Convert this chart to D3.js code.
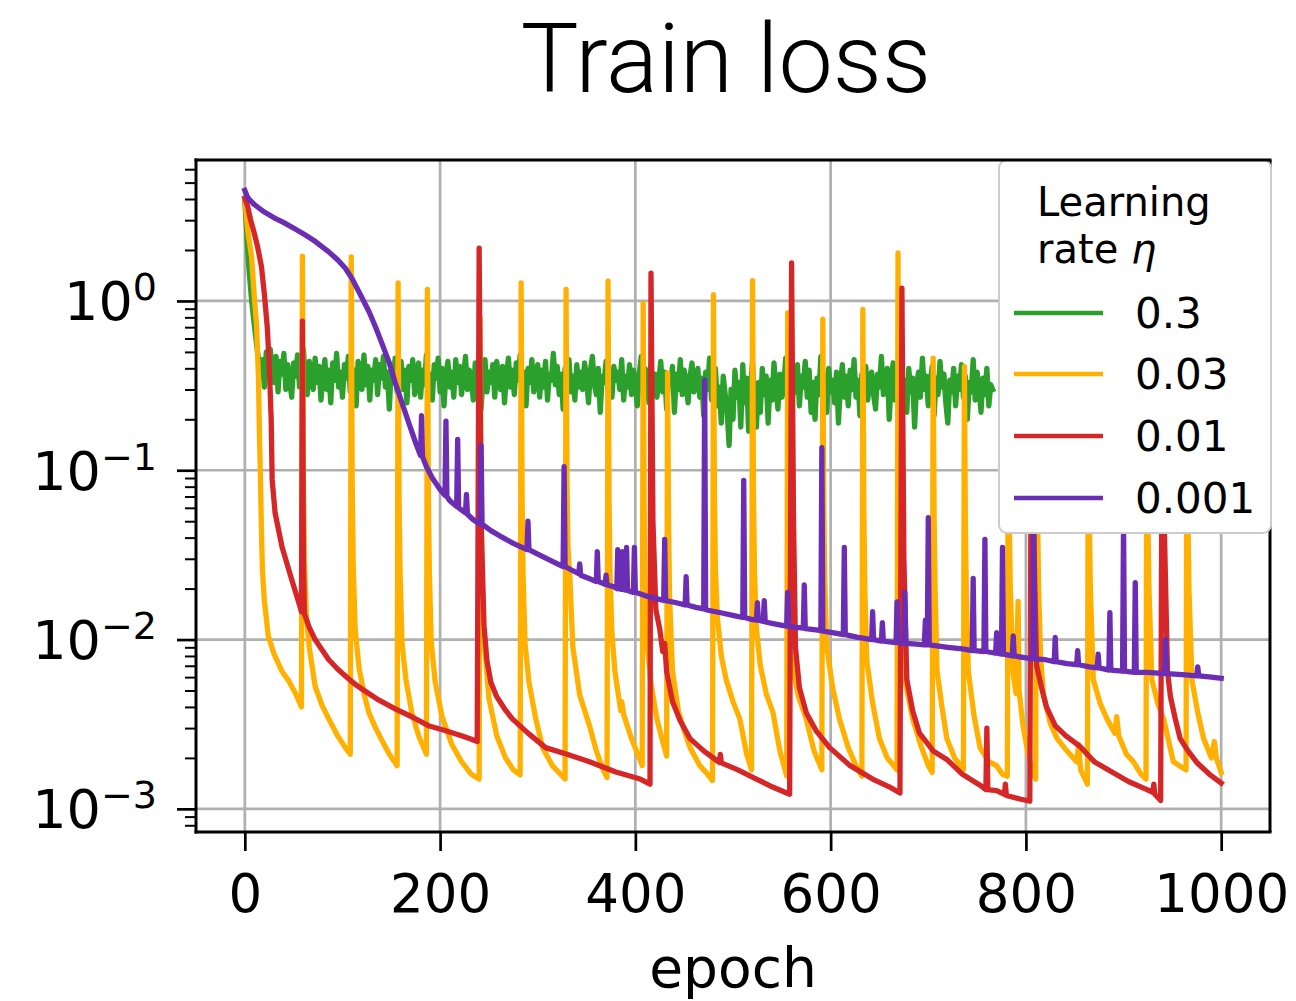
<!DOCTYPE html>
<html>
<head>
<meta charset="utf-8">
<script src="https://cdn.jsdelivr.net/npm/d3@7"></script>
<style>
  body { margin: 0; background: #fff; }
  svg text { font-family: "DejaVu Sans", sans-serif; fill: #000; }
</style>
</head>
<body>
<svg id="chart" width="1296" height="1001"></svg>
<script>
// ---- data -------------------------------------------------------------
const xTicks = [0, 200, 400, 600, 800, 1000];
const yMajorTicks = [1e-3, 1e-2, 1e-1, 1];
const yTickExponents = ["\u22123", "\u22122", "\u22121", "0"];
const learningRates = ["0.3", "0.03", "0.01", "0.001"];
const seriesColors = ["#2ca02c", "#ffb000", "#d62728", "#6a2db4"];

// eta = 0.3: fast drop, then a noisy plateau (sampled every 2 epochs from epoch 16)
const greenHead = [[0, 3.9], [2, 2.5], [4, 1.6], [7, 1.0], [10, 0.7], [13, 0.5]];
const greenEpochs = d3.range(16, 767, 2);
const greenLoss = [
  0.38,0.45,0.31,0.50,0.36,0.52,0.41,0.33,0.47,0.29,0.44,0.37,0.49,0.30,0.42,
  0.34,0.27,0.43,0.36,0.48,0.31,0.40,0.52,0.35,0.28,0.44,0.38,0.30,0.46,0.33,
  0.41,0.26,0.37,0.45,0.30,0.39,0.25,0.43,0.34,0.49,0.31,0.38,0.27,0.42,0.35,
  0.47,0.29,0.40,0.33,0.24,0.44,0.36,0.30,0.48,0.32,0.41,0.26,0.39,0.34,0.45,
  0.28,0.42,0.35,0.47,0.31,0.38,0.23,0.40,0.33,0.46,0.29,0.37,0.44,0.30,0.39,
  0.25,0.41,0.34,0.45,0.28,0.36,0.43,0.27,0.39,0.32,0.48,0.30,0.37,0.26,0.42,
  0.35,0.46,0.29,0.40,0.24,0.37,0.44,0.31,0.38,0.27,0.45,0.33,0.41,0.28,0.36,
  0.47,0.30,0.39,0.34,0.26,0.43,0.32,0.40,0.23,0.36,0.45,0.29,0.38,0.33,0.42,
  0.27,0.44,0.35,0.30,0.41,0.25,0.37,0.46,0.31,0.39,0.28,0.43,0.34,0.48,0.30,
  0.38,0.24,0.40,0.33,0.45,0.29,0.36,0.42,0.27,0.39,0.31,0.44,0.26,0.37,0.34,
  0.49,0.32,0.41,0.28,0.37,0.23,0.40,0.34,0.45,0.29,0.36,0.26,0.42,0.31,0.38,
  0.30,0.43,0.35,0.25,0.39,0.47,0.32,0.28,0.40,0.22,0.36,0.33,0.44,0.29,0.37,
  0.27,0.41,0.34,0.38,0.30,0.45,0.26,0.36,0.31,0.42,0.28,0.39,0.33,0.24,0.37,
  0.47,0.31,0.40,0.35,0.25,0.42,0.30,0.37,0.27,0.34,0.44,0.29,0.38,0.23,0.36,
  0.32,0.41,0.22,0.37,0.30,0.45,0.28,0.39,0.33,0.25,0.36,0.43,0.29,0.34,0.40,
  0.27,0.35,0.21,0.38,0.30,0.46,0.26,0.33,0.40,0.24,0.31,0.19,0.36,0.28,0.22,
  0.14,0.30,0.20,0.39,0.27,0.33,0.18,0.42,0.25,0.35,0.17,0.31,0.44,0.24,0.18,
  0.33,0.22,0.40,0.28,0.36,0.19,0.34,0.26,0.43,0.30,0.23,0.37,0.27,0.32,0.46,
  0.25,0.38,0.21,0.34,0.29,0.42,0.24,0.36,0.31,0.44,0.27,0.39,0.22,0.33,0.20,
  0.35,0.28,0.47,0.31,0.37,0.22,0.40,0.29,0.34,0.25,0.38,0.19,0.32,0.42,0.27,
  0.36,0.24,0.39,0.30,0.45,0.27,0.34,0.21,0.37,0.29,0.41,0.26,0.33,0.38,0.28,
  0.23,0.37,0.31,0.47,0.28,0.35,0.40,0.20,0.33,0.43,0.26,0.36,0.30,0.39,0.25,
  0.34,0.22,0.40,0.29,0.35,0.18,0.32,0.38,0.27,0.46,0.30,0.36,0.24,0.33,0.41,
  0.21,0.35,0.28,0.44,0.31,0.37,0.25,0.19,0.34,0.29,0.40,0.24,0.36,0.30,0.42,
  0.27,0.36,0.20,0.33,0.29,0.45,0.26,0.38,0.31,0.22,0.35,0.28,0.40,0.24,0.32,
  0.30
];

// eta = 0.03: [epoch, loss]
const orangeLoss = [
  [0,4.0],[3,2.6],[7,1.8],[10,1.0],[12,0.72],[14,0.35],[15,0.16],[16,0.09],[17,0.045],[18,0.026],
  [20,0.017],[24,0.0105],[30,0.0082],[38,0.0065],[45,0.0057],[52,0.0048],[58,0.004],
  [59,1.84],[60,0.09],[61,0.03],[63,0.014],[66,0.009],[72,0.0053],[79,0.0041],[86,0.0034],[95,0.0027],[103,0.0023],[108,0.0021],
  [109,1.82],[110,0.08],[111,0.028],[113,0.0115],[117,0.0068],[122,0.0048],[127,0.0037],[134,0.003],[141,0.0025],[148,0.0021],[156,0.0018],
  [157,1.28],[158,0.07],[159,0.025],[161,0.0095],[165,0.0058],[171,0.0037],[178,0.0027],[186,0.0021],
  [187,1.17],[188,0.07],[189,0.025],[191,0.0095],[195,0.0056],[202,0.0035],[212,0.0024],[222,0.0019],[232,0.0016],[240,0.0015],
  [241,0.8],[242,0.06],[243,0.022],[245,0.01],[250,0.0045],[258,0.0027],[267,0.002],[275,0.0017],[282,0.00159],
  [283,1.28],[284,0.07],[285,0.024],[287,0.0095],[291,0.0056],[298,0.0034],[305,0.0023],[315,0.0018],[328,0.0015],
  [329,1.17],[330,0.08],[331,0.035],[333,0.0226],[336,0.009],[343,0.0047],[353,0.0031],[360,0.0022],[367,0.0017],[371,0.00153],
  [372,1.31],[373,0.07],[374,0.025],[376,0.011],[379,0.0065],[385,0.0038],[386,0.0043],[388,0.0036],[396,0.0026],[404,0.002],[407,0.0018],
  [408,0.97],[409,0.06],[410,0.02],[412,0.0095],[416,0.0055],[422,0.0034],[428,0.0025],[432,0.00205],
  [433,0.376],[434,0.05],[435,0.018],[438,0.0065],[444,0.0038],[450,0.0029],[456,0.0023],[466,0.0018],[474,0.0016],[479,0.00147],
  [480,1.09],[481,0.07],[482,0.026],[484,0.0135],[488,0.008],[493,0.0058],[500,0.0043],[507,0.0034],[514,0.0021],[519,0.0017],
  [520,1.32],[521,0.07],[522,0.025],[524,0.0115],[528,0.007],[534,0.0048],[541,0.0037],[548,0.0022],[555,0.00156],
  [556,0.85],[557,0.06],[558,0.022],[561,0.007],[567,0.0046],[575,0.0034],[583,0.0022],[591,0.0017],
  [592,0.78],[593,0.06],[594,0.022],[596,0.0091],[602,0.0052],[609,0.0034],[618,0.0023],[626,0.0018],[632,0.00156],
  [633,0.89],[634,0.06],[635,0.02],[637,0.0075],[643,0.0042],[650,0.0026],[658,0.002],[668,0.0017],
  [669,1.92],[670,0.07],[671,0.025],[673,0.01],[676,0.0058],[684,0.0034],[692,0.0024],[700,0.0018],[704,0.00164],
  [705,0.46],[706,0.05],[707,0.02],[709,0.0065],[714,0.004],[719,0.0026],[727,0.002],[736,0.0017],
  [737,0.41],[738,0.05],[739,0.018],[741,0.0065],[747,0.0035],[753,0.0023],[762,0.0019],[770,0.0018],[776,0.0016],[781,0.00156],
  [782,0.6],[783,0.05],[784,0.02],[787,0.0062],[790,0.0048],[792,0.0168],[793,0.005],[797,0.0031],[801,0.0023],[806,0.0017],[810,0.0015],
  [811,0.6],[812,0.05],[813,0.02],[815,0.008],[818,0.0047],[825,0.0032],[832,0.0026],[842,0.0022],[852,0.0019],[854,0.0024],[856,0.0017],[863,0.0014],
  [864,0.6],[865,0.05],[866,0.02],[869,0.0058],[876,0.0042],[883,0.0034],[891,0.0028],[893,0.0035],[895,0.0027],[903,0.0021],[910,0.0019],[918,0.0016],[923,0.0015],
  [924,0.6],[925,0.05],[926,0.02],[929,0.0058],[935,0.0042],[941,0.0034],[951,0.0019],[957,0.0018],[964,0.0017],
  [965,0.6],[966,0.05],[967,0.02],[970,0.0058],[976,0.0037],[982,0.0026],[990,0.002],[993,0.0025],[995,0.002],[1000,0.00164]
];

// eta = 0.01: [epoch, loss]
const redLoss = [
  [0,4.05],[3,3.6],[6,3.0],[9,2.6],[13,2.1],[17,1.6],[20,1.1],[23,0.7],[25,0.42],[27,0.2],[28,0.088],
  [31,0.056],[38,0.0355],[48,0.0226],[56,0.016],[58,0.0146],
  [59,0.76],[60,0.03],[61,0.0142],[66,0.0118],[72,0.01],[79,0.0087],[86,0.0076],[95,0.0067],[103,0.0061],[112,0.0055],
  [120,0.0051],[137,0.0044],[154,0.0039],[171,0.0035],[188,0.0031],[205,0.0029],[222,0.0027],[230,0.0026],[238,0.0025],
  [240,2.05],[242,0.05],[245,0.012],[248,0.0075],[252,0.0056],[258,0.0046],[266,0.0039],[274,0.0034],[290,0.0028],
  [308,0.0023],[330,0.0021],[353,0.0019],[380,0.00165],[405,0.0015],[415,0.0014],
  [416,1.46],[418,0.05],[421,0.015],[425,0.0115],[428,0.0085],[430,0.0095],[432,0.0065],[438,0.0043],[446,0.0033],
  [456,0.0026],[470,0.0022],[486,0.00188],[487,0.0021],[488,0.00187],[505,0.0017],[524,0.0015],[540,0.00135],[558,0.00122],
  [560,1.68],[562,0.05],[564,0.009],[568,0.0052],[575,0.0037],[585,0.0029],[599,0.0023],[620,0.0018],[643,0.0015],
  [660,0.00135],[671,0.00124],
  [673,1.19],[675,0.03],[678,0.0058],[684,0.0038],[691,0.0028],[705,0.0022],[719,0.00196],[735,0.0016],[753,0.00138],
  [759,0.0013],[760,0.003],[761,0.0013],[770,0.00128],[778,0.00122],[779,0.0014],[780,0.0012],[795,0.00114],[804,0.00111],
  [806,1.4],[808,0.04],[811,0.007],[816,0.0052],[821,0.004],[830,0.0031],[841,0.0027],[855,0.00235],[870,0.0019],
  [889,0.00164],[905,0.00145],[924,0.0013],[930,0.00125],[931,0.0014],[932,0.00122],[938,0.00112],
  [940,1.5],[942,0.04],[945,0.0065],[948,0.0046],[953,0.0034],[958,0.0026],[966,0.0022],[975,0.00188],[988,0.0016],[1000,0.00142]
];

// eta = 0.001: [epoch, loss]
const purpleLoss = [
  [0,4.5],[2,4.2],[4,4.0],[10,3.7],[20,3.35],[30,3.1],[40,2.9],[52,2.65],[62,2.45],[72,2.25],[86,1.95],[95,1.75],
  [103,1.56],[110,1.35],[118,1.1],[127,0.87],[134,0.7],[141,0.55],[148,0.43],[154,0.33],[160,0.26],[168,0.19],[175,0.145],
  [180,0.122],[181,0.21],[182,0.12],[186,0.105],[192,0.09],[200,0.077],[205,0.071],[206,0.195],[207,0.07],[210,0.066],
  [217,0.061],[218,0.152],[219,0.06],[226,0.056],[227,0.072],[228,0.055],[234,0.051],[241,0.048],[242,0.14],[243,0.048],
  [252,0.044],[261,0.041],[275,0.037],[289,0.034],[290,0.05],[291,0.034],[300,0.032],[315,0.029],[326,0.027],[327,0.105],
  [328,0.027],[336,0.0255],[342,0.0245],[343,0.028],[344,0.024],[352,0.023],[360,0.022],[361,0.033],[362,0.022],
  [369,0.0212],[370,0.024],[371,0.021],[378,0.0205],[381,0.02],[382,0.034],[383,0.02],[386,0.0198],[387,0.033],[388,0.0197],
  [390,0.0196],[391,0.035],[392,0.0195],[398,0.019],[399,0.035],[400,0.019],[412,0.018],[421,0.0175],[429,0.017],[430,0.039],
  [431,0.017],[442,0.0165],[451,0.016],[452,0.0235],[453,0.016],[462,0.0155],[470,0.0152],[471,0.34],[472,0.015],
  [490,0.0143],[502,0.0138],[510,0.0135],[511,0.087],[512,0.0135],[518,0.0132],[524,0.013],[525,0.0165],[526,0.013],
  [531,0.0128],[532,0.017],[533,0.0127],[545,0.0123],[555,0.012],[556,0.019],[557,0.012],[565,0.0118],[572,0.0117],
  [573,0.021],[574,0.0116],[585,0.0114],[590,0.0113],[591,0.136],[592,0.0112],[602,0.011],[613,0.0107],[614,0.035],
  [615,0.0107],[628,0.0103],[642,0.01],[643,0.0146],[644,0.01],[652,0.0098],[653,0.0126],[654,0.0098],[660,0.0097],
  [667,0.0096],[668,0.0167],[669,0.0096],[675,0.0095],[676,0.019],[677,0.0095],[688,0.0094],[696,0.0093],[697,0.013],
  [698,0.0093],[699,0.0093],[700,0.0525],[701,0.0093],[720,0.009],[735,0.0088],[745,0.0086],[746,0.023],[747,0.0086],
  [757,0.0085],[758,0.039],[759,0.0085],[769,0.0083],[770,0.011],[771,0.0083],[775,0.0082],[776,0.035],[777,0.0082],
  [786,0.008],[787,0.0105],[788,0.008],[800,0.0078],[807,0.0077],[808,0.06],[809,0.0077],[820,0.0076],[829,0.0074],
  [830,0.0103],[831,0.0074],[842,0.0072],[852,0.0071],[853,0.0086],[854,0.0071],[865,0.0069],[873,0.0068],[874,0.0082],
  [875,0.0068],[885,0.0066],[886,0.0144],[887,0.0066],[899,0.0065],[900,0.05],[901,0.0065],[911,0.0064],[912,0.0217],
  [913,0.0064],[925,0.0064],[942,0.0063],[943,0.01],[944,0.0063],[960,0.0062],[975,0.0061],[976,0.0069],[977,0.0061],
  [990,0.006],[1000,0.0059]
];

// ---- layout -----------------------------------------------------------
const svg = d3.select("#chart");
const plot = { left: 196, right: 1270, top: 160, bottom: 832 };
const x = d3.scaleLinear().domain([-50, 1050]).range([plot.left, plot.right]);
const y = d3.scaleLog().domain([7.3e-4, 6.8]).range([plot.bottom, plot.top]);

const greenLossSeries = greenHead.concat(greenEpochs.map((e, i) => [e, greenLoss[i]]));
const series = [greenLossSeries, orangeLoss, redLoss, purpleLoss];

svg.append("defs").append("clipPath").attr("id", "plot-clip")
  .append("rect")
  .attr("x", plot.left).attr("y", plot.top)
  .attr("width", plot.right - plot.left).attr("height", plot.bottom - plot.top);

// title
svg.append("text")
  .attr("x", 726).attr("y", 92)
  .attr("text-anchor", "middle")
  .style("font-family", "'Helvetica Neue', Roboto, 'Liberation Sans', sans-serif")
  .style("font-weight", 300)
  .style("font-size", "97px")
  .text("Train loss");

// grid
const grid = svg.append("g").attr("stroke", "#b0b0b0").attr("stroke-width", 2.7);
grid.selectAll("line.gx").data(xTicks).join("line")
  .attr("x1", d => x(d)).attr("x2", d => x(d))
  .attr("y1", plot.top).attr("y2", plot.bottom);
grid.selectAll("line.gy").data(yMajorTicks).join("line")
  .attr("y1", d => y(d)).attr("y2", d => y(d))
  .attr("x1", plot.left).attr("x2", plot.right);

// loss curves
const line = d3.line().x(d => x(d[0])).y(d => y(d[1]));
svg.append("g").attr("clip-path", "url(#plot-clip)")
  .selectAll("path").data(series).join("path")
  .attr("d", line)
  .attr("fill", "none")
  .attr("stroke", (d, i) => seriesColors[i])
  .attr("stroke-width", 5.3)
  .attr("stroke-linejoin", "round")
  .attr("stroke-linecap", "square");

// right spine sits beneath the legend box
svg.append("line")
  .attr("x1", plot.right).attr("x2", plot.right)
  .attr("y1", plot.top).attr("y2", plot.bottom)
  .attr("stroke", "#000").attr("stroke-width", 3);

// legend
const legend = svg.append("g");
legend.append("rect")
  .attr("x", 999).attr("y", 160).attr("width", 272).attr("height", 373)
  .attr("rx", 8)
  .attr("fill", "#fff").attr("stroke", "#cccccc").attr("stroke-width", 2);
legend.append("text").attr("x", 1037).attr("y", 216)
  .style("font-size", "40px").text("Learning");
const rateLine = legend.append("text").attr("x", 1037).attr("y", 263).style("font-size", "40px");
rateLine.append("tspan").text("rate ");
rateLine.append("tspan").style("font-style", "italic").text("\u03b7");
const legendRows = [313, 374, 436, 498];
learningRates.forEach((lr, i) => {
  legend.append("line")
    .attr("x1", 1014).attr("x2", 1103)
    .attr("y1", legendRows[i]).attr("y2", legendRows[i])
    .attr("stroke", seriesColors[i]).attr("stroke-width", 4.6);
  legend.append("text").attr("x", 1135).attr("y", legendRows[i] + 15)
    .style("font-size", "42px").text(lr);
});

// remaining spines
const spines = svg.append("g").attr("stroke", "#000").attr("stroke-width", 3).attr("stroke-linecap", "square");
spines.append("line").attr("x1", plot.left).attr("x2", plot.right).attr("y1", plot.top).attr("y2", plot.top);
spines.append("line").attr("x1", plot.left).attr("x2", plot.right).attr("y1", plot.bottom).attr("y2", plot.bottom);
spines.append("line").attr("x1", plot.left).attr("x2", plot.left).attr("y1", plot.top).attr("y2", plot.bottom);

// x axis
const xAxis = svg.append("g")
  .attr("transform", `translate(0,${plot.bottom})`)
  .call(d3.axisBottom(x).tickValues(xTicks).tickSize(19).tickSizeOuter(0).tickFormat(d3.format("d")));
xAxis.select(".domain").remove();
xAxis.attr("font-size", null).attr("font-family", null);
xAxis.selectAll(".tick line").attr("stroke", "#000").attr("stroke-width", 2.7);
xAxis.selectAll(".tick text")
  .attr("dy", null).attr("y", 80)
  .style("font-size", "53px").attr("fill", "#000");

svg.append("text")
  .attr("x", (plot.left + plot.right) / 2).attr("y", 987)
  .attr("text-anchor", "middle")
  .style("font-size", "55px")
  .text("epoch");

// y axis: decade ticks with power-of-ten labels
const yAxis = svg.append("g")
  .attr("transform", `translate(${plot.left},0)`)
  .call(d3.axisLeft(y).tickValues(yMajorTicks).tickSize(19).tickSizeOuter(0).tickFormat(() => ""));
yAxis.select(".domain").remove();
yAxis.attr("font-size", null).attr("font-family", null);
yAxis.selectAll(".tick line").attr("stroke", "#000").attr("stroke-width", 2.7);
yAxis.selectAll(".tick text").remove();
yAxis.selectAll(".tick").each(function (d, i) {
  const t = d3.select(this).append("text")
    .attr("x", -39).attr("y", 19)
    .attr("text-anchor", "end")
    .style("font-size", "54px");
  t.append("tspan").text("10");
  t.append("tspan").attr("dy", -20).style("font-size", "38px").text(yTickExponents[i]);
});

// minor ticks between decades
const minorTicks = [];
[-4, -3, -2, -1, 0].forEach(p => {
  for (let k = 2; k <= 9; k++) {
    const v = k * Math.pow(10, p);
    if (v > y.domain()[0] && v < y.domain()[1]) minorTicks.push(v);
  }
});
const yMinor = svg.append("g")
  .attr("transform", `translate(${plot.left},0)`)
  .call(d3.axisLeft(y).tickValues(minorTicks).tickSize(11).tickSizeOuter(0).tickFormat(() => ""));
yMinor.select(".domain").remove();
yMinor.selectAll(".tick line").attr("stroke", "#000").attr("stroke-width", 2);
yMinor.selectAll(".tick text").remove();
</script>
</body>
</html>
